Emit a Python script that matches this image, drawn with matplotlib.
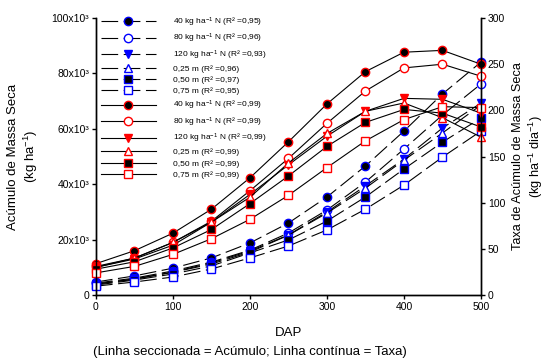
import matplotlib
matplotlib.use('Agg')
import matplotlib.pyplot as plt

plt.rcParams['font.family'] = ['Liberation Sans', 'DejaVu Sans']
plt.rcParams['mathtext.fontset'] = 'custom'
plt.rcParams['mathtext.rm'] = 'Liberation Sans'
plt.rcParams['mathtext.default'] = 'regular'

##-Data
dap = [0, 50, 100, 150, 200, 250, 300, 350, 400, 450, 500]

# Acúmulo de massa seca (kg/ha) - linhas seccionadas
acum_40n = [4700, 6900, 9700, 13400, 18800, 26000, 35400, 46600, 59200, 72600, 84100]
acum_80n = [4300, 6100, 8700, 11900, 16200, 22400, 30700, 40800, 52700, 65000, 76200]
acum_120n = [4000, 5800, 8300, 11600, 15900, 21700, 30000, 39400, 49100, 60300, 69300]
acum_025 = [3900, 5700, 8200, 11200, 15500, 21600, 29600, 38600, 48700, 58500, 68600]
acum_050 = [3600, 5400, 7600, 10500, 15200, 19900, 26700, 35400, 45500, 55200, 63900]
acum_075 = [3200, 4700, 6500, 9400, 13400, 17700, 23500, 31000, 39700, 49800, 59200]

# Taxa de acúmulo (kg/ha/dia) - linhas contínuas
taxa_40n = [34, 48, 67, 93, 127, 166, 207, 242, 263, 265, 250]
taxa_80n = [31, 40, 57, 80, 113, 148, 186, 221, 246, 250, 237]
taxa_120n = [30, 39, 54, 79, 109, 141, 172, 199, 213, 212, 197]
taxa_025 = [30, 40, 57, 79, 106, 143, 175, 199, 208, 192, 171]
taxa_050 = [28, 36, 51, 71, 99, 129, 161, 187, 201, 197, 182]
taxa_075 = [24, 31, 44, 61, 82, 108, 138, 167, 190, 204, 203]

labels_acum = [r'40 kg ha$^{-1}$ N (R² =0,95)', r'80 kg ha$^{-1}$ N (R² =0,96)',
               r'120 kg ha$^{-1}$ N (R² =0,93)', '0,25 m (R² =0,96)',
               '0,50 m (R² =0,97)', '0,75 m (R² =0,95)']
labels_taxa = [r'40 kg ha$^{-1}$ N (R² =0,99)', r'80 kg ha$^{-1}$ N (R² =0,99)',
               r'120 kg ha$^{-1}$ N (R² =0,99)', '0,25 m (R² =0,99)',
               '0,50 m (R² =0,99)', '0,75 m (R² =0,99)']

yticks_left = [0, 20000, 40000, 60000, 80000, 100000]
yticklabels_left = ['0', '20x10³', '40x10³', '60x10³', '80x10³', '100x10³']
yticks_right = [0, 50, 100, 150, 200, 250, 300]
xticks = [0, 100, 200, 300, 400, 500]

##-Styles
markers = ['o', 'o', 'v', '^', 's', 's']
faces_acum = ['black', 'white', 'blue', 'white', 'black', 'white']
faces_taxa = ['black', 'white', 'red', 'white', 'black', 'white']

fig = plt.figure(figsize=(5.47, 3.61), dpi=100)
ax = fig.add_axes([0.1755, 0.1828, 0.7038, 0.7672])
ax2 = ax.twinx()

handles = []
acum = [acum_40n, acum_80n, acum_120n, acum_025, acum_050, acum_075]
for i, serie in enumerate(acum):
    ln, = ax.plot(dap, serie, color='black', lw=0.8, dashes=(15, 5),
                  marker=markers[i], ms=6, mew=1.0, mfc=faces_acum[i],
                  mec='blue', clip_on=False, label=labels_acum[i])
    handles.append(ln)

taxa = [taxa_40n, taxa_80n, taxa_120n, taxa_025, taxa_050, taxa_075]
for i, serie in enumerate(taxa):
    ln, = ax2.plot(dap, serie, color='black', lw=0.8,
                   marker=markers[i], ms=6, mew=1.0, mfc=faces_taxa[i],
                   mec='red', clip_on=False, label=labels_taxa[i])
    handles.append(ln)

#---Axes
ax.set_xlim(0, 500)
ax.set_ylim(0, 100000)
ax2.set_ylim(0, 300)
ax.set_xticks(xticks)
ax.set_yticks(yticks_left)
ax.set_yticklabels(yticklabels_left)
ax2.set_yticks(yticks_right)

for a in (ax, ax2):
    a.spines['top'].set_visible(False)
    for s in a.spines.values():
        s.set_linewidth(1.0)
    a.tick_params(direction='out', length=3, width=1.0, labelsize=7.5, pad=2)

ax.set_ylabel('Acúmulo de Massa Seca\n(kg ha$^{-1}$)', fontsize=9.5, labelpad=8)
ax2.set_ylabel('Taxa de Acúmulo de Massa Seca\n(kg ha$^{-1}$ dia$^{-1}$)',
               fontsize=9.2, labelpad=5)
ax.set_xlabel('DAP', fontsize=9.5, labelpad=11)
fig.text(250 / 547, 1 - 352 / 361,
         '(Linha seccionada = Acúmulo; Linha contínua = Taxa)',
         ha='center', va='center', fontsize=9.5)

ax2.legend(handles=handles, loc='upper left', bbox_to_anchor=(0.012, 1.01),
           frameon=False, fontsize=6, handlelength=6.6, handletextpad=2.1,
           numpoints=1, labelspacing=0.4, borderpad=0, borderaxespad=0)

fig.savefig('out.png', dpi=100)
